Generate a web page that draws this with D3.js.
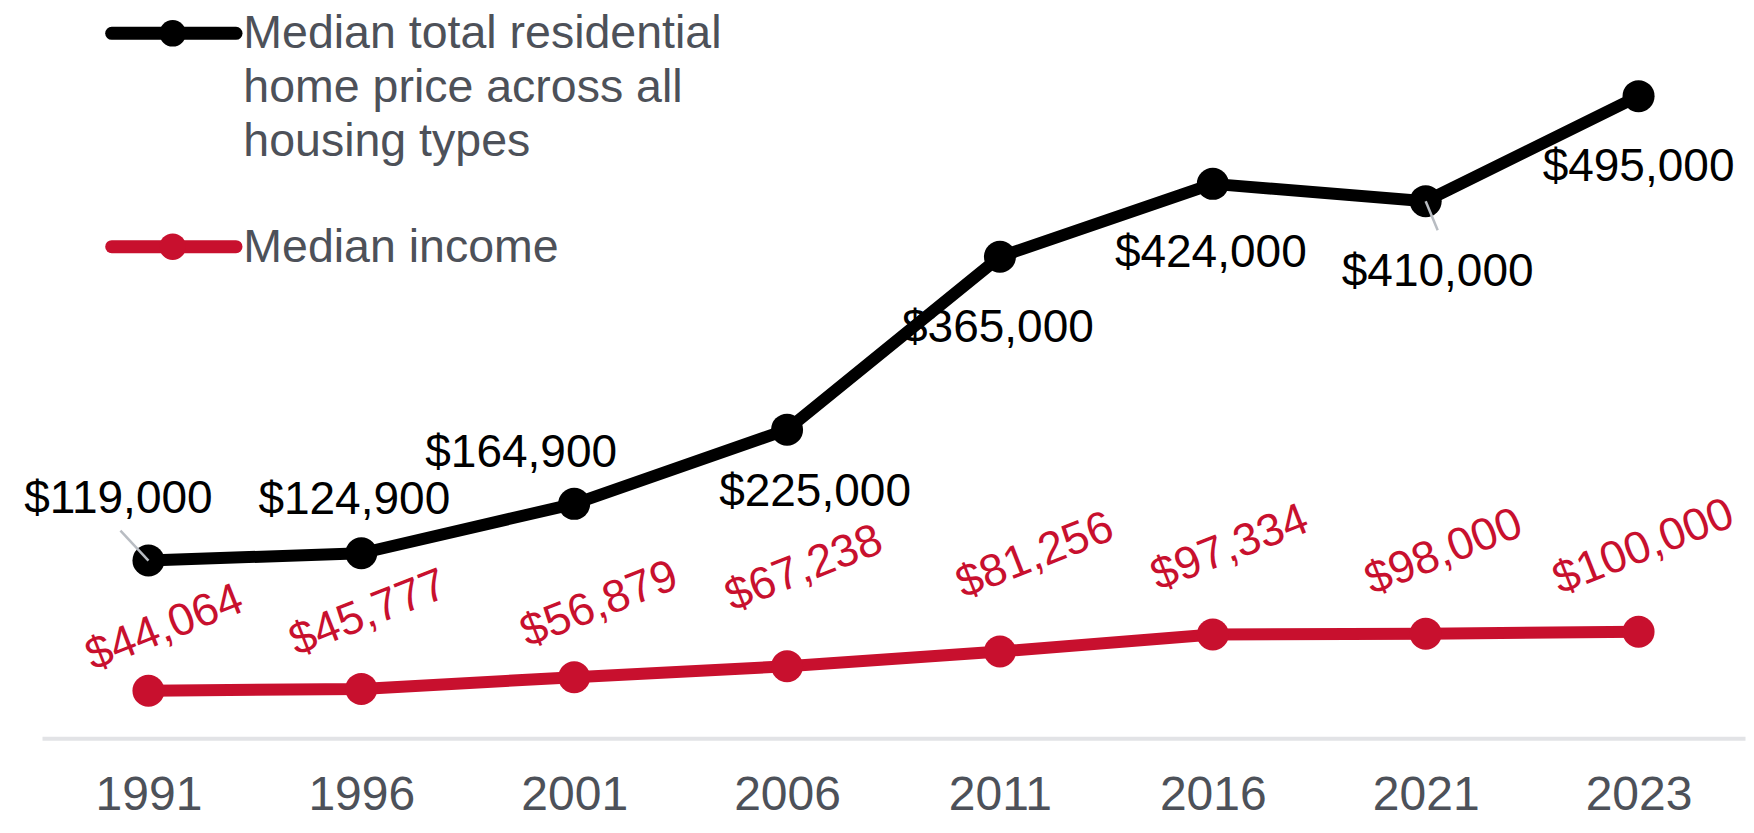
<!DOCTYPE html>
<html>
<head>
<meta charset="utf-8">
<script src="https://cdn.jsdelivr.net/npm/d3@7"></script>
<style>
  html, body { margin: 0; padding: 0; background: #ffffff; }
  svg { display: block; }
</style>
</head>
<body>
<svg id="chart" width="1754" height="833"></svg>
<script>
// ---- data ----
const years = ["1991", "1996", "2001", "2006", "2011", "2016", "2021", "2023"];
const homePrice = [119000, 124900, 164900, 225000, 365000, 424000, 410000, 495000];
const medianIncome = [44064, 45777, 56879, 67238, 81256, 97334, 98000, 100000];
const legendHome = ["Median total residential", "home price across all", "housing types"];
const legendIncome = "Median income";

// ---- layout (label offsets relative to their point) ----
const homeLabelOffset = [[-30, -48], [-7, -39], [-53, -37], [28, 76], [-2, 85], [-2, 83], [12, 85], [0, 85]];
const incomeLabelOffset = [[21, -50], [12, -63], [30, -60], [22, -85], [40, -83], [22, -74], [23, -69], [10, -72]];
const leaderLines = { 0: [-28, -30], 6: [12, 29] };

const BLACK = "#000000";
const RED = "#c8102e";
const GREY_TEXT = "#4d5159";

const svg = d3.select("#chart");
const fontMain = "'Liberation Sans', Arial, Helvetica, sans-serif";

const x = d3.scalePoint().domain(years).range([42, 1745]).padding(0.5);
const yHome = d3.scaleLinear().domain([0, 500000]).range([707.5, 90.0]);
const yIncome = d3.scaleLinear().domain([0, 100000]).range([737.2, 631.7]);
const axisY = 738.3;

// axis
const axisG = svg.append("g")
  .attr("transform", `translate(0,${axisY})`)
  .call(d3.axisBottom(x).tickSize(0).tickSizeOuter(0));
axisG.select(".domain").attr("stroke", "#e2e3e6").attr("stroke-width", 4);
axisG.selectAll("text")
  .attr("y", 72).attr("dy", 0)
  .attr("fill", GREY_TEXT)
  .style("font-family", fontMain)
  .style("font-size", "48px");

const homeData = years.map((yr, i) => ({ yr, v: homePrice[i], i }));
const incomeData = years.map((yr, i) => ({ yr, v: medianIncome[i], i }));

const lineHome = d3.line().x(d => x(d.yr)).y(d => yHome(d.v));
const lineIncome = d3.line().x(d => x(d.yr)).y(d => yIncome(d.v));

// income series
svg.append("path").datum(incomeData)
  .attr("d", lineIncome).attr("fill", "none")
  .attr("stroke", RED).attr("stroke-width", 12).attr("stroke-linejoin", "round");
svg.append("g").selectAll("circle").data(incomeData).join("circle")
  .attr("cx", d => x(d.yr)).attr("cy", d => yIncome(d.v)).attr("r", 16).attr("fill", RED);

// home series
svg.append("path").datum(homeData)
  .attr("d", lineHome).attr("fill", "none")
  .attr("stroke", BLACK).attr("stroke-width", 12).attr("stroke-linejoin", "round");
svg.append("g").selectAll("circle").data(homeData).join("circle")
  .attr("cx", d => x(d.yr)).attr("cy", d => yHome(d.v)).attr("r", 16).attr("fill", BLACK);

// leader lines
Object.keys(leaderLines).forEach(k => {
  const d = homeData[+k];
  const off = leaderLines[k];
  svg.append("line")
    .attr("x1", x(d.yr)).attr("y1", yHome(d.v))
    .attr("x2", x(d.yr) + off[0]).attr("y2", yHome(d.v) + off[1])
    .attr("stroke", "#b8bcc2").attr("stroke-width", 2.5);
});

const fmt = v => "$" + d3.format(",")(v);

// home labels
svg.append("g").selectAll("text").data(homeData).join("text")
  .attr("x", d => x(d.yr) + homeLabelOffset[d.i][0])
  .attr("y", d => yHome(d.v) + homeLabelOffset[d.i][1])
  .attr("text-anchor", "middle")
  .attr("fill", BLACK)
  .style("font-family", fontMain)
  .style("font-size", "46px")
  .text(d => fmt(d.v));

// income labels (rotated)
svg.append("g").selectAll("text").data(incomeData).join("text")
  .attr("transform", d => {
    const px = x(d.yr) + incomeLabelOffset[d.i][0];
    const py = yIncome(d.v) + incomeLabelOffset[d.i][1];
    return `translate(${px},${py}) rotate(-21.5)`;
  })
  .attr("text-anchor", "middle")
  .attr("fill", RED)
  .style("font-family", fontMain)
  .style("font-size", "45.5px")
  .text(d => fmt(d.v));

// legend
const legend = svg.append("g");
function legendItem(y, color) {
  legend.append("line").attr("x1", 111.7).attr("x2", 236).attr("y1", y).attr("y2", y)
    .attr("stroke", color).attr("stroke-width", 13).attr("stroke-linecap", "round");
  legend.append("circle").attr("cx", 172.7).attr("cy", y).attr("r", 13.3).attr("fill", color);
}
legendItem(33.3, BLACK);
legendItem(246.7, RED);
legend.append("text")
  .attr("x", 243.3).attr("y", 48.3)
  .attr("fill", GREY_TEXT)
  .style("font-family", fontMain)
  .style("font-size", "46.5px")
  .selectAll("tspan").data(legendHome).join("tspan")
  .attr("x", 243.3).attr("dy", (d, i) => i === 0 ? 0 : 53.9)
  .text(d => d);
legend.append("text")
  .attr("x", 243.3).attr("y", 261.7)
  .attr("fill", GREY_TEXT)
  .style("font-family", fontMain)
  .style("font-size", "46.5px")
  .text(legendIncome);
</script>
</body>
</html>
